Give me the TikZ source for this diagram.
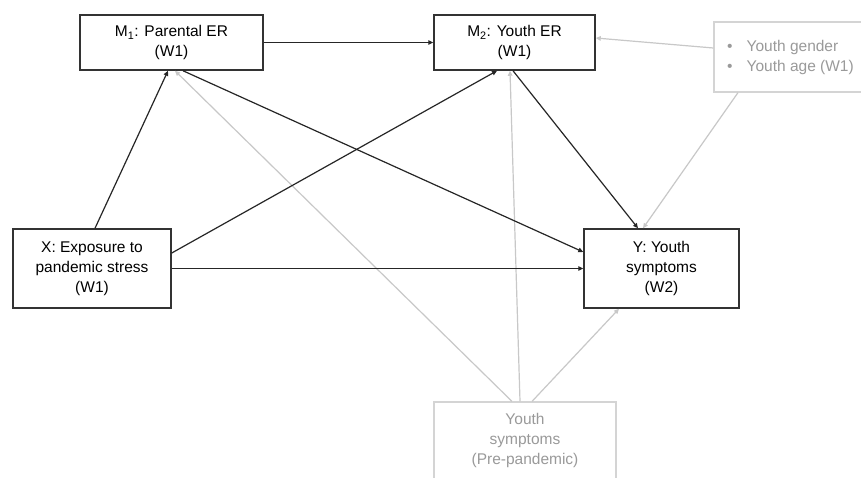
\documentclass[tikz,border=0pt]{standalone}
\usepackage{fontspec}
\setmainfont{Liberation Sans}
\usetikzlibrary{arrows.meta}
\definecolor{lgray}{HTML}{C8C8C8}
\definecolor{tgray}{HTML}{9A9A9A}
\definecolor{bgray}{HTML}{D4D4D4}
\begin{document}
\begin{tikzpicture}[x=1pt,y=-1pt,
  box/.style={draw=black!80, line width=1.5pt, align=center, inner sep=0pt,
    font=\fontsize{15.5}{20}\selectfont},
  gbox/.style={draw=bgray, line width=1.2pt, inner sep=0pt},
  blk/.style={draw=black!85, line width=1.2pt, -{Triangle[length=5pt,width=4.5pt]}},
  gry/.style={draw=lgray, line width=1.2pt, -{Triangle[length=5pt,width=4.5pt]}},
  gtext/.style={text=tgray, align=center, inner sep=0pt, font=\fontsize{15.5}{20}\selectfont}]
\useasboundingbox (0,0) rectangle (861,477);
\clip (0,0) rectangle (861,477);
\fill[white] (0,0) rectangle (861,477);
\node[box, minimum width=183pt, minimum height=55pt] (M1) at (171.5,42.5) {M\textsubscript{1}: Parental ER\\(W1)};
\node[box, minimum width=161pt, minimum height=55pt] (M2) at (514.5,42.5) {M\textsubscript{2}: Youth ER\\(W1)};
\node[box, minimum width=158pt, minimum height=79pt] (X) at (92,268.5) {X: Exposure to\\pandemic stress\\(W1)};
\node[box, minimum width=155pt, minimum height=79pt] (Y) at (661.5,268.5) {Y: Youth\\symptoms\\(W2)};
\node[gbox, minimum width=172pt, minimum height=70pt] (cov) at (800,57) {};
\node[gtext, anchor=west, align=left] (covtext) at (727,57) {\textbullet\hspace{14pt}Youth gender\\\textbullet\hspace{14pt}Youth age (W1)};
\node[gbox, minimum width=182pt, minimum height=98pt] (pre) at (525,451) {};
\node[gtext] (pretext) at (525,440) {Youth\\symptoms\\(Pre-pandemic)};
% gray arrows
\draw[gry] ([yshift=9pt]cov.west) -- ([yshift=4.5pt]M2.east);
\draw[gry] ([xshift=-62pt]cov.south) -- ([xshift=-18.5pt]Y.north);
\draw[gry] ([xshift=-13pt]pre.north) -- ([xshift=3.5pt]M1.south);
\draw[gry] ([xshift=-5pt]pre.north) -- ([xshift=-4.5pt]M2.south);
\draw[gry] ([xshift=7pt]pre.north) -- ([xshift=-42.5pt]Y.south);
% black arrows
\draw[blk] (M1.east) -- (M2.west);
\draw[blk] ([xshift=3pt]X.north) -- ([xshift=-3.5pt]M1.south);
\draw[blk] ([yshift=15.5pt]X.east) -- ([xshift=-17.5pt]M2.south);
\draw[blk] (X.east) -- (Y.west);
\draw[blk] ([xshift=11.5pt]M1.south) -- ([yshift=16.5pt]Y.west);
\draw[blk] ([xshift=-1.5pt]M2.south) -- ([xshift=-23.5pt]Y.north);
\end{tikzpicture}
\end{document}
